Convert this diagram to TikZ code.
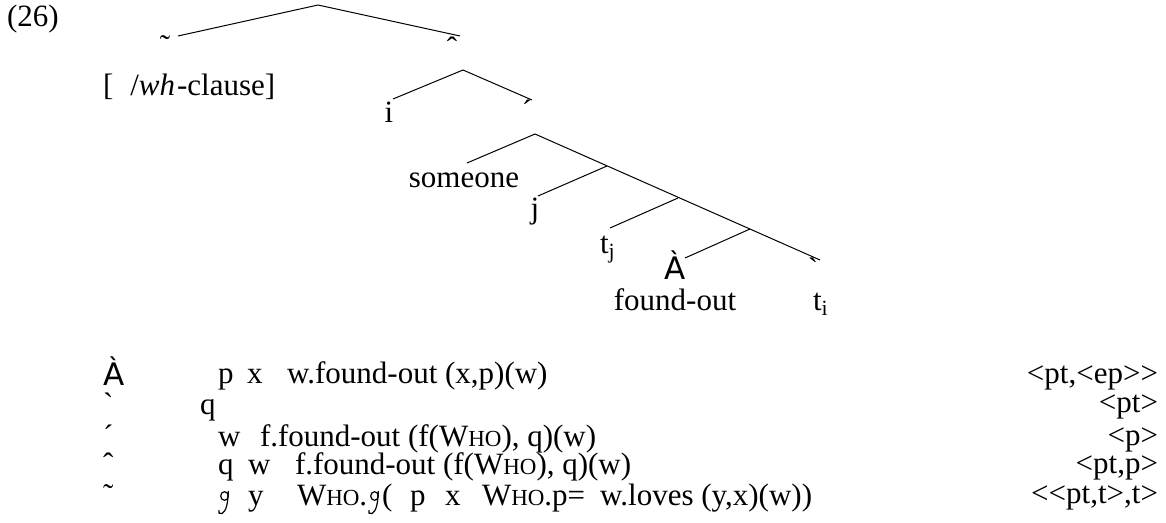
\documentclass[tikz,border=0pt]{standalone}
\usepackage{fontspec}
\setmainfont{Liberation Serif}[Ligatures=TeXOff]
\newfontfamily\sansfam{DejaVu Sans}
\newcommand\whoSC{W{\fontsize{23}{23}\selectfont HO}}
\newcommand\sansA{{\sansfam À}}
\begin{document}
\begin{tikzpicture}[x=1pt,y=-1pt,
  every node/.style={inner sep=0pt,outer sep=0pt,font=\fontsize{31}{31}\selectfont},
  lab/.style={anchor=base},
  txt/.style={anchor=base west},
  rt/.style={anchor=base east},
  branch/.style={line width=1pt},
  scriptg/.pic={
    \draw[line width=1.2pt,line cap=round] (6.5,-9) ellipse [x radius=3.8, y radius=4.3];
    \draw[line width=1.2pt,line cap=round] (10.3,-13.5) .. controls (9.8,-2) and (8.5,6) .. (4,8.5)
      .. controls (1.5,9.5) and (-0.5,7.5) .. (1,5.5);
  }]
\useasboundingbox (0,0) rectangle (1166,522);
% numbering
\node[txt] (num) at (7,27) {(26)};
% tree coordinates
\coordinate (r) at (318,5);
\coordinate (r1) at (178,36);
\coordinate (r2) at (460,36);
\coordinate (n2) at (463,70);
\coordinate (n2a) at (393,99);
\coordinate (n2b) at (532,100);
\coordinate (n3) at (535,134);
\coordinate (n3a) at (467,163);
\coordinate (s1) at (607,166);
\coordinate (s1a) at (538,196);
\coordinate (s2) at (678,198);
\coordinate (s2a) at (610,228);
\coordinate (s3) at (750,229);
\coordinate (s3a) at (685,258);
\coordinate (s4) at (820,260);
% branches
\draw[branch] (r1) -- (r) -- (r2);
\draw[branch] (n2a) -- (n2) -- (n2b);
\draw[branch] (n3a) -- (n3) -- (s4);
\draw[branch] (s1) -- (s1a);
\draw[branch] (s2) -- (s2a);
\draw[branch] (s3) -- (s3a);
% tree labels
\node[lab] (l1) at (165,56) {˜};
\node[lab] (l2) at (452,58) {ˆ};
\node[txt] (wh) at (103,95) {[\kern17pt/\textit{wh}\kern2pt-clause]};
\node[lab] (li) at (389,122) {i};
\node[lab] (l3) at (527,121) {´};
\node[lab] (some) at (464,187) {someone};
\node[lab] (lj) at (535,218) {j};
\node[txt] (ltj) at (600,253) {t\textsubscript{j}};
\node[lab] (lA) at (675,279) {\sansA};
\node[lab] (fo) at (675,310) {found-out};
\node[lab] (l4) at (813,279) {`};
\node[txt] (lti) at (813,310) {t\textsubscript{i}};
% bottom markers
\node[txt] (m1) at (103,385) {\sansA};
\node[txt] (m2) at (103,414) {`};
\node[txt] (m3) at (103,446) {´};
\node[txt] (m4) at (103,474) {ˆ};
\node[txt] (m5) at (103,505) {˜};
% row 1
\node[txt] (a1) at (218,383) {p};
\node[txt] (a2) at (247,383) {x};
\node[txt] (a3) at (287,383) {w.found-out (x,p)(w)};
% row 2
\node[txt] (b1) at (200,414) {q};
% row 3
\node[txt] (c1) at (218,446) {w};
\node[txt] (c2) at (260,446) {f.found-out (f(\whoSC), q)(w)};
% row 4
\node[txt] (d1) at (218,474) {q};
\node[txt] (d2) at (248,474) {w};
\node[txt] (d3) at (295,474) {f.found-out (f(\whoSC), q)(w)};
% row 5 (script g drawn as a shape)
\pic at (218,505) {scriptg};
\node[txt] (e2) at (248,505) {y};
\node[txt] (e3) at (297,505) {\whoSC.};
\pic at (368,505) {scriptg};
\node[txt] (e3b) at (382,505) {(};
\node[txt] (e4) at (410,505) {p};
\node[txt] (e5) at (445,505) {x};
\node[txt] (e6) at (482,505) {\whoSC.p=};
\node[txt] (e7) at (600,505) {w.loves (y,x)(w))};
% types
\node[rt] (t1) at (1158,383) {<pt,<ep>>};
\node[rt] (t2) at (1158,412) {<pt>};
\node[rt] (t3) at (1158,445) {<p>};
\node[rt] (t4) at (1158,473) {<pt,p>};
\node[rt] (t5) at (1158,503) {<<pt,t>,t>};
\end{tikzpicture}
\end{document}
